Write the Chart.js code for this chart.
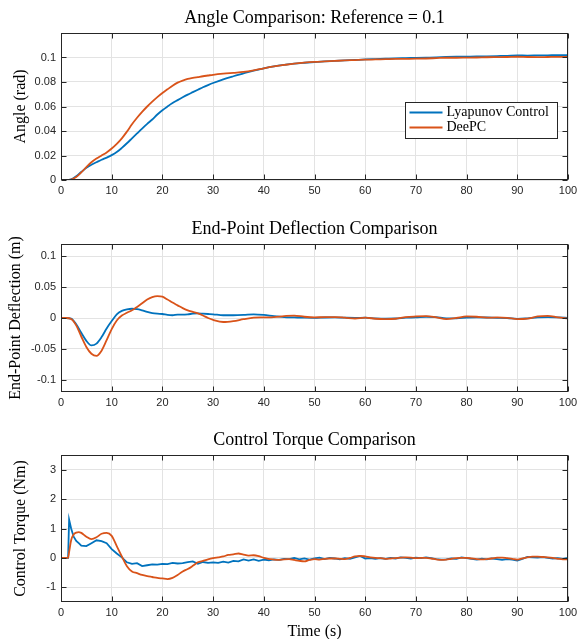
<!DOCTYPE html>
<html>
<head>
<meta charset="utf-8">
<script src="https://cdn.jsdelivr.net/npm/chart.js@4.4.1/dist/chart.umd.min.js"></script>
<style>
  html, body { margin: 0; padding: 0; background: #fff; }
  body { width: 578px; height: 639px; position: relative; overflow: hidden; }
  .panel { position: absolute; left: 0; width: 578px; }
</style>
</head>
<body>
<div class="panel" style="top:0;height:211px"><canvas id="angleChart"></canvas></div>
<div class="panel" style="top:211px;height:211px"><canvas id="deflChart"></canvas></div>
<div class="panel" style="top:422px;height:217px"><canvas id="torqueChart"></canvas></div>
<script>
// --- Data ---
const seriesNames = ['Lyapunov Control', 'DeePC'];
const xTicks = [0, 10, 20, 30, 40, 50, 60, 70, 80, 90, 100];

// sample times for angle + deflection (s)
const times1 = [
  0, 1, 2, 3, 4, 5, 6, 7, 8, 9,
  10, 11, 12, 13, 14, 15, 16, 17, 18, 19,
  20, 21, 22, 23, 24, 25, 26, 27, 28, 29,
  30,
  32, 34, 36, 38, 40, 42, 44, 46, 48, 50,
  52, 54, 56, 58, 60, 62, 64, 66, 68, 70,
  72, 74, 76, 78, 80, 82, 84, 86, 88, 90,
  92, 94, 96, 98, 100
];

const angleTicks = [0, 0.02, 0.04, 0.06, 0.08, 0.1];
const angleLyap = [
  0, 0, 0.0005, 0.003, 0.0065, 0.01, 0.0125, 0.0145, 0.0165, 0.0183,
  0.0203, 0.0228, 0.0262, 0.03, 0.034, 0.038, 0.042, 0.0458, 0.0494, 0.0535,
  0.057, 0.06, 0.0628, 0.0652, 0.0675, 0.0697, 0.0717, 0.0737, 0.0757, 0.0775,
  0.0792,
  0.0822, 0.0847, 0.087, 0.0893, 0.0912, 0.0928, 0.094, 0.095, 0.0957, 0.0963,
  0.0968, 0.0972, 0.0976, 0.098, 0.0984, 0.0987, 0.099, 0.0993, 0.0995, 0.0997,
  0.0999, 0.1001, 0.1004, 0.1006, 0.1007, 0.1008, 0.101, 0.1012, 0.1014, 0.1017,
  0.1016, 0.1017, 0.1018, 0.102, 0.102
];
const angleDeePC = [
  0, 0, 0.0004, 0.0025, 0.0062, 0.0105, 0.0145, 0.0175, 0.02, 0.0225,
  0.0257, 0.0295, 0.034, 0.0395, 0.0455, 0.0508, 0.0556, 0.06, 0.064, 0.0677,
  0.071, 0.074, 0.077, 0.0795, 0.0812, 0.0825, 0.0833, 0.084, 0.0847, 0.0853,
  0.0859,
  0.0868, 0.0875, 0.0882, 0.0895, 0.0912, 0.0927, 0.0939, 0.095, 0.0958, 0.0964,
  0.0968, 0.0972, 0.0976, 0.0979, 0.0982, 0.0984, 0.0986, 0.0988, 0.0989, 0.099,
  0.0992, 0.0995, 0.0998, 0.0998, 0.0999, 0.1, 0.1002, 0.1003, 0.1004, 0.1006,
  0.1004, 0.1003, 0.1004, 0.1005, 0.1004
];

const deflTicks = [-0.1, -0.05, 0, 0.05, 0.1];
const deflLyap = [
  0, 0, -0.001, -0.01, -0.024, -0.037, -0.0445, -0.0415, -0.031, -0.017,
  -0.005, 0.006, 0.0115, 0.014, 0.015, 0.0145, 0.0125, 0.01, 0.008, 0.007,
  0.0065, 0.005, 0.0045, 0.0055, 0.0055, 0.006, 0.007, 0.0075, 0.007, 0.0065,
  0.006,
  0.0045, 0.0045, 0.005, 0.006, 0.005, 0.003, 0.0015, 0.001, 0.0005, 0.0003,
  0.0008, 0.001, 0.0005, 0.0002, 0.0005, -0.0005, -0.001, -0.0008, 0.0005, 0.001,
  0.002, 0.0015, -0.0005, -0.0005, 0.0005, 0.001, 0.0008, 0.0003, 0, -0.0015,
  -0.0005, 0.001, 0.0015, 0.001, 0.0002
];
const deflDeePC = [
  0, 0, -0.0015, -0.012, -0.03, -0.047, -0.058, -0.0615, -0.053, -0.036,
  -0.018, -0.004, 0.004, 0.0085, 0.0125, 0.018, 0.024, 0.03, 0.034, 0.0355,
  0.0345, 0.03, 0.025, 0.0205, 0.016, 0.0125, 0.01, 0.0075, 0.004, 0,
  -0.003,
  -0.0065, -0.005, -0.002, 0.0005, 0.001, 0.0015, 0.003, 0.004, 0.002, 0.001,
  0.0015, 0.0015, 0.0005, -0.0008, 0.0005, -0.0012, -0.0018, -0.0012, 0.0015, 0.0025,
  0.003, 0.001, -0.0018, 0.0002, 0.0025, 0.002, 0.0005, 0.001, 0.0002, -0.0018,
  -0.001, 0.0025, 0.0035, 0.001, -0.001
];

// sample times for torque (s)
const times3 = [
  0, 1, 1.4, 1.6, 2, 2.5, 3, 3.5, 4,
  5, 6, 7, 8, 9, 10, 11, 12, 13, 14,
  15, 16, 17, 18, 19, 20, 21, 22, 23, 24,
  25, 26, 27, 28, 29, 30, 31, 32, 33, 34,
  35, 36, 37, 38, 39, 40, 41, 42, 43, 44,
  45, 46, 47, 48, 49, 50, 51, 52, 53, 54,
  55, 56, 57, 58, 59, 60, 61, 62, 63, 64,
  65, 66, 67, 68, 69, 70, 71, 72, 73, 74,
  75, 76, 77, 78, 79, 80, 81, 82, 83, 84,
  85, 86, 87, 88, 89, 90, 91, 92, 93, 94,
  95, 96, 97, 98, 99, 100
];
const torqueTicks = [-1, 0, 1, 2, 3];
const torqueLyap = [
  0, 0, 0, 1.3, 1.0, 0.72, 0.58, 0.5, 0.42,
  0.4, 0.5, 0.6, 0.57, 0.5, 0.3, 0.15, 0.02, -0.15, -0.2,
  -0.18, -0.28, -0.25, -0.22, -0.23, -0.2, -0.21, -0.17, -0.19, -0.18,
  -0.14, -0.12, -0.2, -0.14, -0.17, -0.15, -0.17, -0.13, -0.16, -0.1,
  -0.12, -0.05, -0.09, -0.05, -0.1, -0.06, -0.08, -0.05, -0.07, -0.03,
  -0.04, 0, -0.05, -0.02, -0.06, -0.02, 0.01, -0.04, 0, -0.02,
  -0.05, -0.01, -0.03, 0.02, 0.07, -0.02, -0.01, -0.03, -0.01, -0.03,
  0, -0.02, 0.02, 0, -0.02, 0.01, -0.01, 0.02, -0.01, -0.04,
  -0.06, -0.05, -0.02, -0.03, 0.02, -0.01, -0.03, -0.06, -0.03, -0.05,
  -0.02, -0.04, -0.07, -0.04, -0.06, -0.09, -0.03, 0.03, 0.02, 0.01,
  0.03, 0, -0.02, -0.01, -0.03, 0
];
const torqueDeePC = [
  0, 0, 0, 0.2, 0.6, 0.8, 0.86, 0.88, 0.85,
  0.72, 0.64, 0.7, 0.82, 0.85, 0.75, 0.4, 0.05, -0.28, -0.46,
  -0.52, -0.58, -0.62, -0.65, -0.68, -0.7, -0.72, -0.68, -0.58, -0.46,
  -0.38, -0.27, -0.15, -0.1, -0.05, -0.01, 0.02, 0.05, 0.1, 0.12,
  0.15, 0.11, 0.08, 0.09, 0.06, 0, -0.03, -0.06, -0.07, -0.05,
  -0.04, -0.07, -0.1, -0.12, -0.07, -0.04, -0.06, -0.03, -0.02, -0.02,
  -0.03, -0.04, 0, 0.05, 0.07, 0.05, 0.02, 0, -0.01, -0.03,
  -0.02, -0.01, 0.01, 0.02, 0.01, -0.01, 0, 0, -0.02, -0.05,
  -0.07, -0.06, -0.03, -0.01, 0, 0, -0.02, -0.04, -0.05, -0.04,
  -0.02, 0.01, 0.01, -0.01, -0.03, -0.06, -0.02, 0.02, 0.04, 0.04,
  0.03, 0.02, 0, -0.03, -0.05, -0.05
];

// --- Styling ---
const BLUE = '#0072BD';
const ORANGE = '#D95319';
const AXIS = '#262626';
const GRID = '#e3e3e3';
const SERIF = '"Liberation Serif", "Times New Roman", serif';
const SANS = '"Liberation Sans", Arial, sans-serif';

function toPoints(xs, ys) {
  return xs.map((x, i) => ({ x: x, y: ys[i] }));
}

// draws the MATLAB-style box, inward ticks, titles and legend
const matlabFrame = {
  id: 'matlabFrame',
  afterDatasetsDraw(chart, args, opts) {
    const { ctx, chartArea: a, scales } = chart;
    const L = Math.round(a.left) + 0.5, R = Math.round(a.right) - 0.5;
    const T = Math.round(a.top) + 0.5, B = Math.round(a.bottom) - 0.5;
    ctx.save();
    ctx.strokeStyle = AXIS;
    ctx.lineWidth = 1;
    ctx.strokeRect(L, T, R - L, B - T);

    ctx.beginPath();
    scales.x.ticks.forEach(t => {
      const px = Math.round(scales.x.getPixelForValue(t.value)) + 0.5;
      ctx.moveTo(px, B); ctx.lineTo(px, B - 5);
      ctx.moveTo(px, T); ctx.lineTo(px, T + 5);
    });
    scales.y.ticks.forEach(t => {
      const py = Math.round(scales.y.getPixelForValue(t.value)) + 0.5;
      ctx.moveTo(L, py); ctx.lineTo(L + 5, py);
      ctx.moveTo(R, py); ctx.lineTo(R - 5, py);
    });
    ctx.stroke();

    ctx.fillStyle = '#000';
    ctx.textAlign = 'center';
    ctx.textBaseline = 'middle';
    ctx.font = '18px ' + SERIF;
    ctx.fillText(opts.title, (a.left + a.right) / 2, a.top - 15);

    ctx.font = '16px ' + SERIF;
    ctx.save();
    ctx.translate(opts.yLabelX, (a.top + a.bottom) / 2);
    ctx.rotate(-Math.PI / 2);
    ctx.fillText(opts.yLabel, 0, 0);
    ctx.restore();

    if (opts.xLabel) {
      ctx.fillText(opts.xLabel, (a.left + a.right) / 2, a.bottom + 30);
    }

    if (opts.legend) {
      const bx = Math.round(a.right - 163) + 0.5, by = Math.round(a.top + 69) + 0.5;
      const bw = 152, bh = 36;
      ctx.fillStyle = '#fff';
      ctx.fillRect(bx, by, bw, bh);
      ctx.strokeStyle = AXIS;
      ctx.strokeRect(bx, by, bw, bh);
      ctx.font = '14px ' + SERIF;
      ctx.textAlign = 'left';
      [BLUE, ORANGE].forEach((c, i) => {
        const y = by + 10 + i * 15;
        ctx.strokeStyle = c;
        ctx.lineWidth = 2;
        ctx.beginPath();
        ctx.moveTo(bx + 4, y); ctx.lineTo(bx + 37, y);
        ctx.stroke();
        ctx.fillStyle = '#000';
        ctx.fillText(seriesNames[i], bx + 41, y);
      });
    }
    ctx.restore();
  }
};

function makeChart(id, cfg) {
  const ctx = document.getElementById(id).getContext('2d');
  return new Chart(ctx, {
    type: 'line',
    data: {
      datasets: [
        {
          label: seriesNames[0],
          data: toPoints(cfg.times, cfg.lyap),
          borderColor: BLUE,
          borderWidth: 1.8,
          pointRadius: 0,
          tension: cfg.blueSharp ? 0 : 0.4,
          cubicInterpolationMode: cfg.blueSharp ? 'default' : 'monotone',
          order: 1
        },
        {
          label: seriesNames[1],
          data: toPoints(cfg.times, cfg.deepc),
          borderColor: ORANGE,
          borderWidth: 1.8,
          pointRadius: 0,
          tension: 0.4,
          cubicInterpolationMode: 'monotone',
          order: 0
        }
      ]
    },
    options: {
      responsive: true,
      maintainAspectRatio: false,
      animation: false,
      devicePixelRatio: 1,
      layout: { padding: { top: 33, right: 10, left: 0, bottom: 0 } },
      scales: {
        x: {
          type: 'linear',
          min: 0,
          max: 100,
          afterBuildTicks: s => { s.ticks = xTicks.map(v => ({ value: v })); },
          afterFit: s => { s.height = cfg.xHeight; s.paddingLeft = 0; s.paddingRight = 0; },
          grid: { color: GRID, drawTicks: false },
          border: { display: false },
          ticks: { color: AXIS, font: { family: SANS, size: 11 }, padding: 4, maxRotation: 0 }
        },
        y: {
          min: cfg.yMin,
          max: cfg.yMax,
          afterBuildTicks: s => { s.ticks = cfg.yTicks.map(v => ({ value: v })); },
          afterFit: s => { s.width = 61; },
          grid: { color: GRID, drawTicks: false },
          border: { display: false },
          ticks: {
            color: AXIS,
            font: { family: SANS, size: 11 },
            padding: 5,
            callback: v => String(+v.toFixed(4))
          }
        }
      },
      plugins: {
        legend: { display: false },
        tooltip: { enabled: false },
        matlabFrame: {
          title: cfg.title,
          yLabel: cfg.yLabel,
          yLabelX: cfg.yLabelX,
          xLabel: cfg.xLabel,
          legend: cfg.legend
        }
      }
    },
    plugins: [matlabFrame]
  });
}

makeChart('angleChart', {
  times: times1, lyap: angleLyap, deepc: angleDeePC,
  yMin: 0, yMax: 0.12, yTicks: angleTicks,
  title: 'Angle Comparison: Reference = 0.1',
  yLabel: 'Angle (rad)', yLabelX: 21, legend: true, xHeight: 31
});

makeChart('deflChart', {
  times: times1, lyap: deflLyap, deepc: deflDeePC,
  yMin: -0.12, yMax: 0.12, yTicks: deflTicks,
  title: 'End-Point Deflection Comparison',
  yLabel: 'End-Point Deflection (m)', yLabelX: 16, xHeight: 30
});

makeChart('torqueChart', {
  times: times3, lyap: torqueLyap, deepc: torqueDeePC, blueSharp: true,
  yMin: -1.5, yMax: 3.5, yTicks: torqueTicks,
  title: 'Control Torque Comparison',
  yLabel: 'Control Torque (Nm)', yLabelX: 21, xLabel: 'Time (s)', xHeight: 37
});
</script>
</body>
</html>
